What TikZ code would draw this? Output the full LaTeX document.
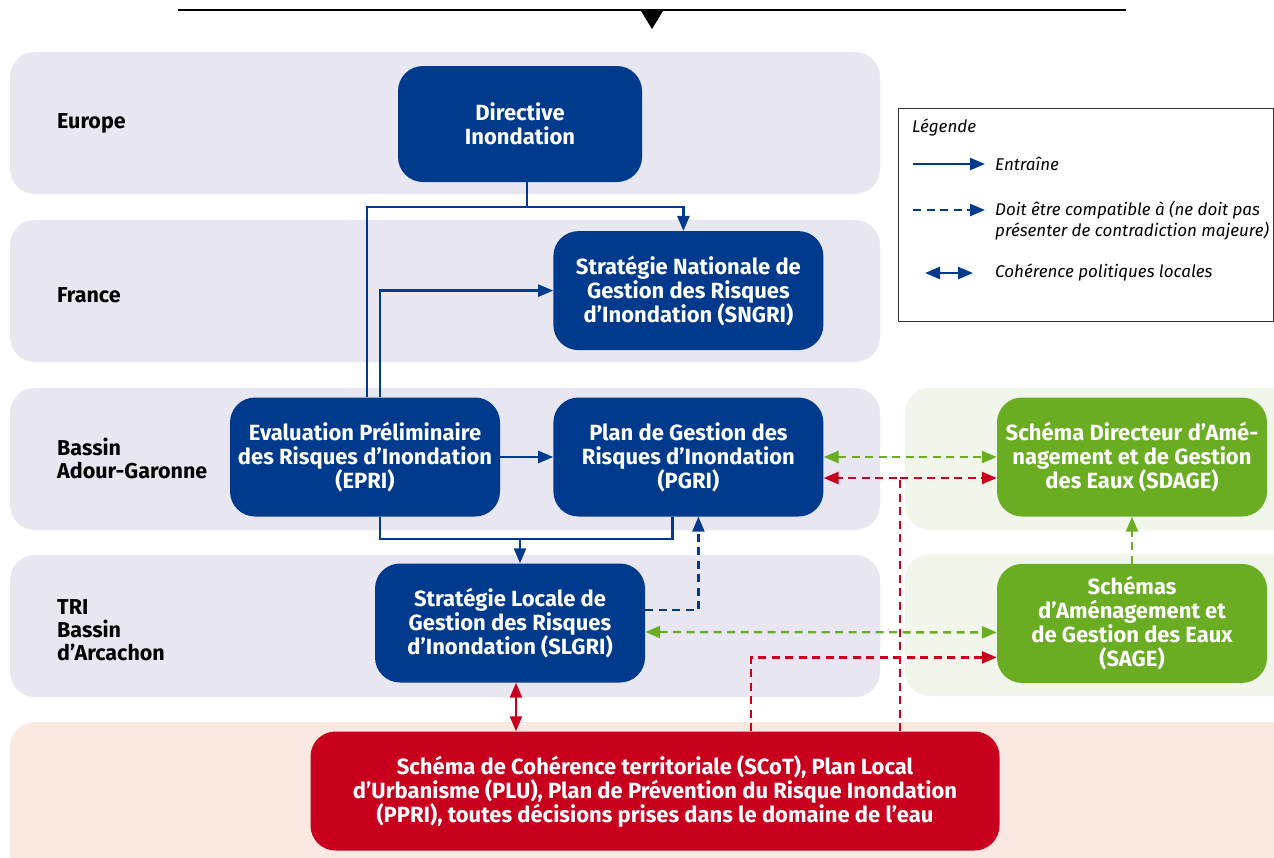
\documentclass[tikz,border=0pt]{standalone}
\usepackage{fontspec}
\setmainfont{Fira Sans}
\usetikzlibrary{arrows.meta}
\usetikzlibrary{positioning}
\definecolor{bandblue}{HTML}{E8E6F1}
\definecolor{bandgreen}{HTML}{F1F6EA}
\definecolor{bandred}{HTML}{FAE8E1}
\definecolor{darkblue}{HTML}{003A8C}
\definecolor{leafgreen}{HTML}{6AAD23}
\definecolor{deepred}{HTML}{C8001E}
\tikzset{
  band/.style={
    rounded corners=25pt,
    inner sep=0,
    minimum height=142pt,
  },
  level/.style={
    anchor=west,
    align=left,
    inner sep=0,
    font=\fontsize{21.5}{23}\selectfont\bfseries,
  },
  part/.style={
    rectangle,
    rounded corners=25pt,
    minimum width=270pt,
    minimum height=119pt,
    align=center,
    text=white,
    font=\fontsize{22}{24}\selectfont\bfseries,
  },
  instance/.style={
    part,
    fill=darkblue,
  },
  water/.style={
    part,
    fill=leafgreen,
  },
  local/.style={
    part,
    fill=deepred,
  },
  flow/.style={
    draw,
    line width=2.4pt,
    >={Triangle[length=15pt,width=12pt]},
  },
  entraine/.style={
    flow,
    ->,
    darkblue,
  },
  link/.style={
    flow,
    darkblue,
  },
  compatible/.style={
    flow,
    ->,
    dash pattern=on 8pt off 5.5pt,
  },
  legendtext/.style={
    anchor=west,
    align=left,
    inner sep=0,
    font=\fontsize{17}{21}\selectfont\itshape,
  }
}

\begin{document}
\begin{tikzpicture}[x=1pt,y=1pt]
  \useasboundingbox (0,0) rectangle (1274,-857);

  % bands
  \node (europe band) [band,fill=bandblue,minimum width=870pt] at (445,-123) {};
  \node (france band) [band,fill=bandblue,minimum width=870pt] at (445,-291) {};
  \node (bassin band) [band,fill=bandblue,minimum width=870pt] at (445,-459) {};
  \node (tri band)    [band,fill=bandblue,minimum width=870pt] at (445,-626) {};
  \node (sdage band)  [band,fill=bandgreen,minimum width=400pt] at (1105,-459) {};
  \node (sage band)   [band,fill=bandgreen,minimum width=400pt] at (1105,-625) {};
  \node (local band)  [band,fill=bandred,minimum width=1300pt,minimum height=160pt] at (660,-802) {};

  \draw [line width=2pt] (178,-10) -- (1126,-10);
  \fill (641,-11) -- (663,-11) -- (652,-29) -- cycle;

  \node (europe label) [level] at (57,-123) {Europe};
  \node (france label) [level] at (57,-295) {France};
  \node (bassin label) [level] at (57,-458) {Bassin\\Adour-Garonne};
  \node (tri label)    [level] at (57,-630) {TRI\\Bassin\\d’Arcachon};

  \node (directive) [instance,minimum width=244pt,minimum height=116pt] at (520,-124) {Directive\\Inondation};
  \node (epri)  [instance] at (365,-457) {Evaluation Préliminaire\\des Risques d’Inondation\\(EPRI)};
  \node (pgri)  [instance,right=53pt of epri] {Plan de Gestion des\\Risques d’Inondation\\(PGRI)};
  \node (sngri) [instance,above=47pt of pgri] {Stratégie Nationale de\\Gestion des Risques\\d’Inondation (SNGRI)};
  \node (slgri) [instance] at (510,-623) {Stratégie Locale de\\Gestion des Risques\\d’Inondation (SLGRI)};
  \node (sdage) [water] at (1132,-457) {Schéma Directeur d’Amé-\\nagement et de Gestion\\des Eaux (SDAGE)};
  \node (sage)  [water,below=47pt of sdage] {Schémas\\d’Aménagement et\\de Gestion des Eaux\\(SAGE)};
  \node (scot)  [local,minimum width=689pt] at (655,-791) {Schéma de Cohérence territoriale (SCoT), Plan Local\\d’Urbanisme (PLU), Plan de Prévention du Risque Inondation\\(PPRI), toutes décisions prises dans le domaine de l’eau};

  \coordinate (top fork) at (527,-207);
  \coordinate (bottom fork) at (520,-539);
  \coordinate (red fork) at (900,-478);

  \path [entraine] (top fork |- directive.south) -- (top fork) -| ([xshift=-5pt]sngri.north);
  \path [link] (top fork) -| ([xshift=2pt]epri.north);
  \path [entraine] ([xshift=15pt]epri.north) |- (sngri.west);
  \path [entraine] (epri) -- (pgri);
  \path [link] ([xshift=15pt]epri.south) |- (bottom fork) -| ([xshift=-16pt]pgri.south);
  \path [entraine] (bottom fork) -- (bottom fork |- slgri.north);
  \path [compatible,darkblue] ([yshift=13pt]slgri.east) -| ([xshift=10pt]pgri.south);

  \path [compatible,<->,leafgreen] (pgri) -- (sdage);
  \path [compatible,leafgreen] (sage) -- (sdage);
  \path [compatible,<->,leafgreen] ([yshift=-9pt]slgri.east) -- ([yshift=-9pt]sage.west);
  \path [compatible,deepred] (scot.north -| red fork) -- (red fork) -- (red fork -| pgri.east);
  \path [compatible,deepred] (red fork) -- (red fork -| sdage.west);
  \path [compatible,deepred] (scot.north -| 751,0) |- ([yshift=-34pt]sage.west);
  \path [flow,<->,deepred] ([xshift=6pt]slgri.south) -- ([xshift=6pt]slgri.south |- scot.north);

  % legend
  \node (legend) [draw=black!80,line width=1pt,minimum width=375pt,minimum height=213pt] at (1085.5,-214.5) {};
  \node (legend title) [legendtext] at (912,-128) {Légende};
  \coordinate (entraine start) at (913,-164);
  \coordinate (entraine end) at (985,-164);
  \path [entraine] (entraine start) -- (entraine end);
  \node (entraine text) [legendtext] at (995,-164) {Entraîne};
  \coordinate (compatible start) at (913,-210);
  \coordinate (compatible end) at (985,-210);
  \path [compatible,darkblue] (compatible start) -- (compatible end);
  \node (compatible text) [legendtext] at (995,-220.5) {Doit être compatible à (ne doit pas\\présenter de contradiction majeure)};
  \coordinate (coherence start) at (925,-273);
  \coordinate (coherence end) at (973,-273);
  \path [entraine,<->] (coherence start) -- (coherence end);
  \node (coherence text) [legendtext] at (995,-273) {Cohérence politiques locales};
\end{tikzpicture}
\end{document}
